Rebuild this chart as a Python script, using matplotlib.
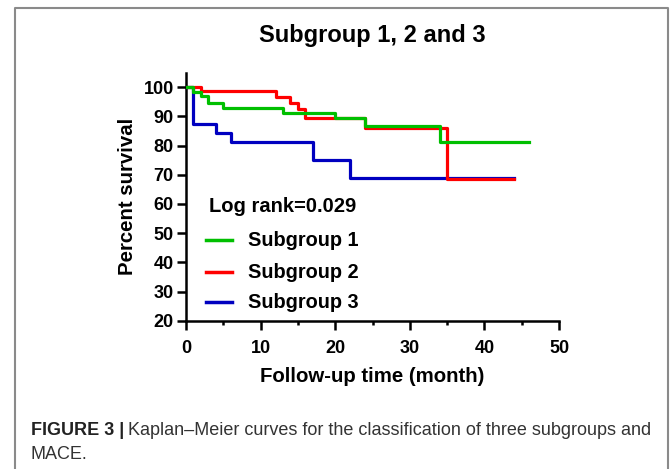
import numpy as np
import matplotlib
matplotlib.use("Agg")
import matplotlib.pyplot as plt
from matplotlib.lines import Line2D

plt.rcParams['font.family'] = ['Liberation Sans', 'DejaVu Sans']

# Kaplan-Meier step data (time in months, survival in %)
time_sg1 = [0, 1, 2, 3, 5, 13, 20, 24, 34, 46]
surv_sg1 = [100, 98.5, 96.9, 94.6, 92.8, 91.3, 89.4, 86.7, 81.3, 81.3]

time_sg2 = [0, 2, 12, 14, 15, 16, 24, 35, 44]
surv_sg2 = [100, 98.6, 96.8, 94.6, 92.5, 89.5, 86.0, 68.7, 68.7]

time_sg3 = [0, 1, 4, 6, 17, 22, 44]
surv_sg3 = [100, 87.5, 84.4, 81.3, 75.0, 68.8, 68.8]

group_names = ['Subgroup 1', 'Subgroup 2', 'Subgroup 3']
group_colors = ['#00bf00', '#ff0000', '#0000c0']
x_ticks = [0, 10, 20, 30, 40, 50]
y_ticks = [20, 30, 40, 50, 60, 70, 80, 90, 100]

W, H = 670, 469
fig = plt.figure(figsize=(W / 100, H / 100), dpi=100)
ax = fig.add_axes([186 / W, 1 - 320.7 / H, 373 / W, 248 / H])

# draw blue first, green on top
ax.plot(time_sg3, surv_sg3, drawstyle='steps-post', color=group_colors[2], lw=2.3, zorder=3)
ax.plot(time_sg2, surv_sg2, drawstyle='steps-post', color=group_colors[1], lw=2.3, zorder=4)
ax.plot(time_sg1, surv_sg1, drawstyle='steps-post', color=group_colors[0], lw=2.3, zorder=5)

ax.set_xlim(0, 50)
ax.set_ylim(20, 105)
ax.set_xticks(x_ticks)
ax.set_xticks(np.arange(5, 50, 10), minor=True)
ax.set_yticks(y_ticks)
for s in ['top', 'right']:
    ax.spines[s].set_visible(False)
for s in ['left', 'bottom']:
    ax.spines[s].set_linewidth(1.8)
ax.tick_params(which='major', length=6.8, width=1.8, labelsize=13)
ax.tick_params(axis='x', which='major', pad=7)
ax.tick_params(axis='y', which='major', pad=2)
ax.tick_params(which='minor', length=3.2, width=1.8)
for lab in ax.get_xticklabels() + ax.get_yticklabels():
    lab.set_fontweight('bold')

ax.set_xlabel('Follow-up time (month)', fontsize=14.7, fontweight='bold', labelpad=7)
ax.set_ylabel('Percent survival', fontsize=14.7, fontweight='bold', labelpad=5)
ax.set_title('Subgroup 1, 2 and 3', fontsize=17, fontweight='bold', pad=22)

# legend drawn by hand (positions in axes fractions, from pixel layout)
def ax_xy(px, py):
    return (px - 186) / 373, (320.7 - py) / 248

ax.text(*ax_xy(209, 207), 'Log rank=0.029', transform=ax.transAxes,
        fontsize=14.5, fontweight='bold', va='center')
for name, color, py in zip(group_names, group_colors, [240, 272, 302]):
    x0, y0 = ax_xy(206, py)
    x1, _ = ax_xy(232, py)
    ax.add_line(Line2D([x0, x1], [y0, y0], transform=ax.transAxes, color=color, lw=2.5))
    ax.text(*ax_xy(248, py), name, transform=ax.transAxes,
            fontsize=14.3, fontweight='bold', va='center')

# caption
cap_y = 1 - 435 / H
t1 = fig.text(31 / W, cap_y, 'FIGURE 3 |', fontsize=13, fontweight='bold', color='#222222')
fig.canvas.draw()
bb = t1.get_window_extent()
fig.text((bb.x1 + 4) / W, cap_y,
         'Kaplan\u2013Meier curves for the classification of three subgroups and',
         fontsize=13, color='#333333')
fig.text(31 / W, 1 - 459 / H, 'MACE.', fontsize=13, color='#333333')

# grey frame around the figure panel
fig.add_artist(Line2D([15 / W, 15 / W, 668 / W, 668 / W],
                      [0, 1 - 8 / H, 1 - 8 / H, 0],
                      transform=fig.transFigure, color='#8a8a8a', lw=1.5))

fig.savefig('out.png', dpi=100)
